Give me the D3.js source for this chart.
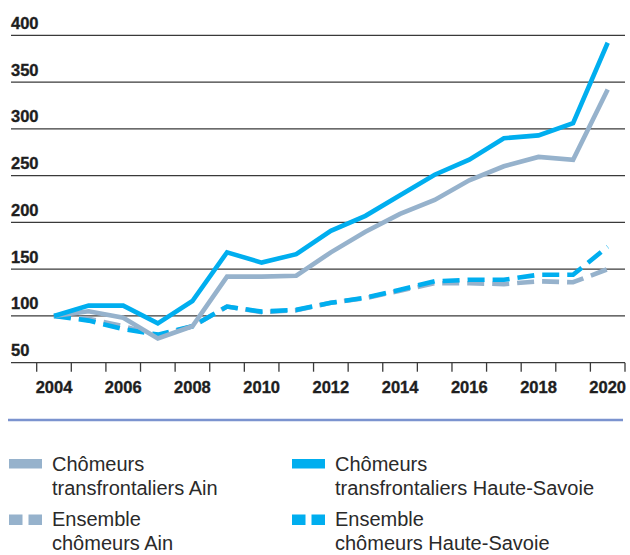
<!DOCTYPE html>
<html>
<head>
<meta charset="utf-8">
<script src="https://cdn.jsdelivr.net/npm/d3@7"></script>
<style>
  html, body { margin: 0; padding: 0; background: #fff; }
  svg { display: block; }
  text { font-family: "Liberation Sans", Arial, Helvetica, sans-serif; }
</style>
</head>
<body>
<svg id="chart" width="630" height="555"></svg>
<script>
// ---- Data ----
const years = [2004, 2005, 2006, 2007, 2008, 2009, 2010, 2011, 2012, 2013, 2014, 2015, 2016, 2017, 2018, 2019, 2020];
const xTickLabels = [2004, 2006, 2008, 2010, 2012, 2014, 2016, 2018, 2020];
const yTickValues = [50, 100, 150, 200, 250, 300, 350, 400];

const transfrontaliersAin = [100, 105, 98, 76, 89, 142, 142, 143, 168, 190, 209, 224, 245, 260, 270, 267, 342];
const transfrontaliersHauteSavoie = [100, 111, 111, 92, 116, 168, 157, 166, 191, 207, 229, 251, 267, 290, 293, 306, 392];
const ensembleAin = [100, 97, 89, 79, 89, 110, 104, 106, 114, 119, 127, 135, 135, 134, 137, 136, 150];
const ensembleHauteSavoie = [100, 95, 86, 80, 89, 110, 104.6, 106.5, 114, 119.6, 128, 137, 138.6, 138.6, 144, 144, 174];

const legendLabels = [
  ["Chômeurs", "transfrontaliers Ain"],
  ["Chômeurs", "transfrontaliers Haute-Savoie"],
  ["Ensemble", "chômeurs Ain"],
  ["Ensemble", "chômeurs Haute-Savoie"]
];

// ---- Styles ----
const BLUE = "#00aeef";
const GRAY = "#96b2cc";

const svg = d3.select("#chart");

const x = d3.scaleBand().domain(years).range([36.7, 625]).padding(0);
const y = d3.scaleLinear().domain([50, 400]).range([362.7, 35.3]);
const cx = d => x(d) + x.bandwidth() / 2;

// Gridlines
svg.append("g").selectAll("line").data(yTickValues).join("line")
  .attr("x1", 11).attr("x2", 625)
  .attr("y1", d => y(d)).attr("y2", d => y(d))
  .attr("stroke", "#3a3a3a").attr("stroke-width", 1.3);

// Y labels
svg.append("g").selectAll("text").data(yTickValues).join("text")
  .attr("x", 11).attr("y", d => y(d) - 6.5)
  .attr("font-size", 16.5).attr("font-weight", "bold").attr("fill", "#1e1e1e")
  .attr("stroke", "#1e1e1e").attr("stroke-width", 0.35)
  .text(d => d);

// X ticks at band boundaries
const boundaries = years.map(d => x(d)).concat([x.range()[1]]);
svg.append("g").selectAll("line").data(boundaries).join("line")
  .attr("x1", d => d).attr("x2", d => d)
  .attr("y1", y(50)).attr("y2", y(50) + 9)
  .attr("stroke", "#3a3a3a").attr("stroke-width", 1.3);

// X labels via axis
const xAxis = d3.axisBottom(x).tickValues(xTickLabels).tickSize(0).tickPadding(0).tickFormat(d => d);
const gx = svg.append("g").attr("transform", `translate(0, ${y(50)})`).call(xAxis);
gx.select(".domain").remove();
gx.selectAll("text")
  .attr("dy", null).attr("y", 30.5)
  .attr("font-size", 16.5).attr("font-weight", "bold").attr("fill", "#1e1e1e")
  .attr("stroke", "#1e1e1e").attr("stroke-width", 0.35)
  .style("font-family", "'Liberation Sans', Arial, sans-serif");

// Lines
const line = d3.line().x((d, i) => cx(years[i])).y(d => y(d));

function drawSeries(values, color, dashed) {
  svg.append("path")
    .datum(values)
    .attr("d", line)
    .attr("fill", "none")
    .attr("stroke", color)
    .attr("stroke-width", 4.6)
    .attr("stroke-linejoin", "miter")
    .attr("stroke-dasharray", dashed ? "17,8" : null);
}
drawSeries(ensembleAin, GRAY, true);
drawSeries(ensembleHauteSavoie, BLUE, true);
drawSeries(transfrontaliersAin, GRAY, false);
drawSeries(transfrontaliersHauteSavoie, BLUE, false);

// Legend separator
svg.append("line")
  .attr("x1", 8).attr("x2", 623).attr("y1", 420).attr("y2", 420)
  .attr("stroke", "#7b93cf").attr("stroke-width", 2.5);

// Legend
const legendItems = [
  { col: 0, row: 0, color: GRAY, dashed: false },
  { col: 1, row: 0, color: BLUE, dashed: false },
  { col: 0, row: 1, color: GRAY, dashed: true },
  { col: 1, row: 1, color: BLUE, dashed: true }
];
const colX = [9, 292];
const rowY = [459, 514];
legendItems.forEach((it, i) => {
  const g = svg.append("g");
  const sx = colX[it.col], sy = rowY[it.row];
  if (!it.dashed) {
    g.append("rect").attr("x", sx).attr("y", sy).attr("width", 33).attr("height", 9.5).attr("fill", it.color);
  } else {
    g.append("rect").attr("x", sx).attr("y", sy + 0.5).attr("width", 13.5).attr("height", 10.5).attr("fill", it.color);
    g.append("rect").attr("x", sx + 19.5).attr("y", sy + 0.5).attr("width", 13.5).attr("height", 10.5).attr("fill", it.color);
  }
  const t = g.append("text").attr("x", sx + 43).attr("y", sy + 11.5)
    .attr("font-size", 20).attr("fill", "#2a2a2a");
  legendLabels[i].forEach((s, k) => {
    t.append("tspan").attr("x", sx + 43).attr("dy", k === 0 ? 0 : 24).text(s);
  });
});
</script>
</body>
</html>
